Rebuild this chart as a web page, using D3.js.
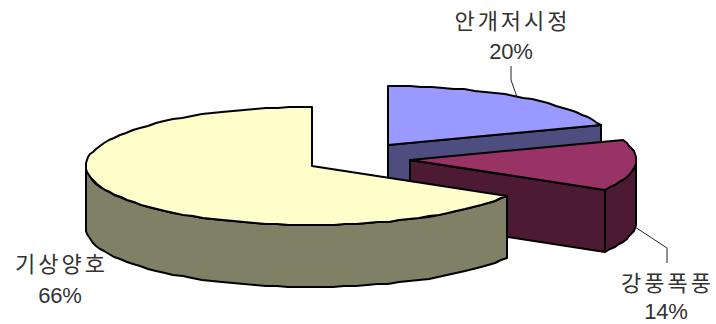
<!DOCTYPE html>
<html lang="ko">
<head>
<meta charset="utf-8">
<title>기상 현황</title>
<script src="https://cdnjs.cloudflare.com/ajax/libs/d3/7.8.5/d3.min.js"></script>
<style>
  html, body { margin: 0; padding: 0; background: #fff; }
  svg { display: block; }
  .name { font-family: "Noto Sans CJK KR", sans-serif; font-size: 22px; letter-spacing: 3px; fill: #333; font-weight: 400; }
  .pct { font-family: "Liberation Sans", sans-serif; font-size: 22px; letter-spacing: -0.2px; fill: #333; }
</style>
</head>
<body>
<div id="chart"></div>
<script>
// Weather condition shares, clockwise from twelve o'clock
const categories = ["안개저시정", "강풍폭풍", "기상양호"];
const shares = [20, 14, 66];
const topColors = ["#9999FF", "#993366", "#FFFFCC"];
const sideColors = ["#4D4D80", "#4D1A33", "#808066"];

// Where each slice's apex sits once the wedges are pulled apart
const apexX = [388, 410, 312];
const apexY = [145, 160, 166];

// Label anchors and leader lines
const labelX = [511, 666, 60];
const nameY = [29, 291, 272];
const pctY = [59, 319, 303];
const leaders = [
  [[511, 66], [511, 80], [517, 97]],
  [[635, 227], [667, 248], [667, 263]],
  null
];

const width = 716, height = 324;
const rx = 226, ry = 59, depth = 62;

const svg = d3.select("#chart").append("svg")
  .attr("width", width).attr("height", height);

const pie = d3.pie().sort(null).startAngle(0).endAngle(2 * Math.PI);
const arcs = pie(shares);

const line = d3.line();

// The 3-D view foreshortens the angle slightly on the way round
const viewAngle = a => a - 0.04 * Math.sin(a / 2);

// Projected point on the tilted rim; angle is clockwise from the top.
// Whole-pixel rounding gives the outline its stepped, faceted look.
const rim = (i, a, dy = 0) => {
  const v = viewAngle(a);
  return [
    Math.round(apexX[i] + rx * Math.sin(v)),
    Math.round(apexY[i] - ry * Math.cos(v)) + dy
  ];
};

function rimPoints(i, a0, a1, dy = 0) {
  const n = Math.max(2, Math.round(Math.abs(a1 - a0) / 0.05));
  return d3.range(n + 1).map(k => rim(i, a0 + (a1 - a0) * k / n, dy));
}

const outline = { stroke: "#000", "stroke-width": 2, "stroke-linejoin": "round" };
function face(points, fill) {
  const p = svg.append("path").attr("d", line(points) + "Z").attr("fill", fill);
  Object.entries(outline).forEach(([k, v]) => p.attr(k, v));
}

// Range of the rim that lies on the near side of the ellipse
const nearStart = Math.PI / 2 + 0.029;
const nearEnd = 3 * Math.PI / 2 + 0.028;

// Slices are painted back to front: blue, magenta, then the large yellow one
arcs.forEach((d, i) => {
  const a0 = d.startAngle, a1 = d.endAngle;
  const apex = [apexX[i], apexY[i]];

  // Cut wall along the slice's clockwise edge, for the two pulled-out wedges
  if (i < 2) {
    const wallEnd = rim(i, a1);
    face([apex, wallEnd, [wallEnd[0], wallEnd[1] + depth], [apex[0], apex[1] + depth]], sideColors[i]);
  }

  // Outer wall
  const from = Math.max(a0, nearStart);
  const to = Math.min(a1, nearEnd);
  if (to > from) {
    face(rimPoints(i, from, to).concat(rimPoints(i, to, from, depth)), sideColors[i]);
  }

  // Top face
  face([apex].concat(rimPoints(i, a0, a1)), topColors[i]);
});

// Leader lines
leaders.forEach(pts => {
  if (!pts) return;
  svg.append("path").attr("d", line(pts))
    .attr("fill", "none").attr("stroke", "#222").attr("stroke-width", 1);
});

// Category name with its percentage below
categories.forEach((name, i) => {
  svg.append("text").attr("class", "name")
    .attr("x", labelX[i] + 1.5).attr("y", nameY[i])
    .attr("text-anchor", "middle").text(name);
  svg.append("text").attr("class", "pct")
    .attr("x", labelX[i]).attr("y", pctY[i])
    .attr("text-anchor", "middle").text(shares[i] + "%");
});
</script>
</body>
</html>
